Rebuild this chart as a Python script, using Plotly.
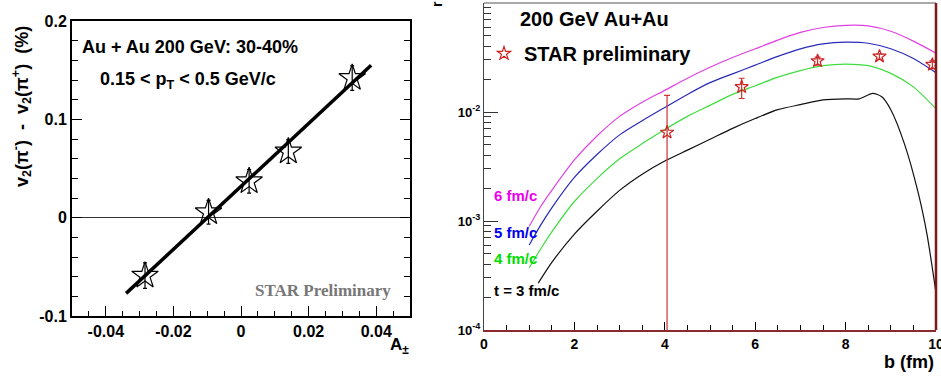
import plotly.graph_objects as go

W, H = 941, 378

# ---------------- Left panel data ----------------
a_pm = [-0.0284, -0.0096, 0.0024, 0.0140, 0.0329]
dv2 = [-0.059, 0.0055, 0.037, 0.0673, 0.142]
dv2_err = [0.013, 0.012, 0.012, 0.012, 0.0125]
fit_x = [-0.034, 0.0385]
fit_y = [-0.077, 0.155]
left_xticks = [-0.04, -0.02, 0, 0.02, 0.04]
left_xticklabels = ["-0.04", "-0.02", "0", "0.02", "0.04"]
left_yticks = [-0.1, 0, 0.1, 0.2]
left_yticklabels = ["-0.1", "0", "0.1", "0.2"]

# ---------------- Right panel data ----------------
b_curve = [1.0, 1.25, 1.5, 2.0, 2.5, 3.0, 3.5, 4.0, 4.5, 5.0,
           5.5, 6.0, 6.5, 7.0, 7.5, 8.0, 8.5, 9.0, 9.5, 10.0]
r_6fm = [8.91e-4, 1.35e-3, 1.91e-3, 3.63e-3, 6.03e-3, 9.12e-3, 1.23e-2, 1.58e-2, 2.04e-2, 2.57e-2,
         3.16e-2, 3.80e-2, 4.57e-2, 5.37e-2, 5.96e-2, 6.24e-2, 6.17e-2, 5.50e-2, 4.47e-2, 3.47e-2]
r_5fm = [6.03e-4, 9.12e-4, 1.32e-3, 2.51e-3, 4.07e-3, 6.17e-3, 8.32e-3, 1.10e-2, 1.45e-2, 1.86e-2,
         2.24e-2, 2.69e-2, 3.24e-2, 3.80e-2, 4.22e-2, 4.37e-2, 4.27e-2, 3.80e-2, 3.09e-2, 2.29e-2]
r_4fm = [3.72e-4, 5.50e-4, 7.94e-4, 1.51e-3, 2.45e-3, 3.72e-3, 5.13e-3, 6.92e-3, 9.12e-3, 1.15e-2,
         1.45e-2, 1.74e-2, 2.09e-2, 2.40e-2, 2.66e-2, 2.75e-2, 2.66e-2, 2.26e-2, 1.70e-2, 1.07e-2]
b_3fm = [1.2, 1.5, 2.0, 2.5, 3.0, 3.5, 4.0, 4.5, 5.0, 5.5, 6.0, 6.5, 7.0, 7.5, 8.0,
         8.3, 8.6, 8.8, 9.0, 9.3, 9.6, 9.8, 10.0]
r_3fm = [2.69e-4, 4.17e-4, 7.59e-4, 1.23e-3, 1.91e-3, 2.69e-3, 3.55e-3, 4.47e-3, 5.62e-3, 7.08e-3,
         8.71e-3, 1.05e-2, 1.17e-2, 1.29e-2, 1.32e-2, 1.32e-2, 1.48e-2, 1.38e-2, 1.05e-2, 5.13e-3,
         1.86e-3, 7.59e-4, 2.19e-4]
star_b = [4.05, 5.70, 7.38, 8.75, 9.92]
star_r = [0.0065, 0.0170, 0.0294, 0.0324, 0.0272]
star_err_plus = [0.0077, 0.0034, 0.0025, 0.0018, 0.0022]
star_err_minus = [0.00649, 0.0037, 0.0025, 0.0018, 0.0022]
right_xticks = [0, 2, 4, 6, 8, 10]
right_yticks = [1e-4, 1e-3, 1e-2]
right_yticklabels = ["10<sup>-4</sup>", "10<sup>-3</sup>", "10<sup>-2</sup>"]

FONT = "Liberation Sans"


def px(x):
    return x / W


def py(y):
    return 1 - y / H


fig = go.Figure()

# left panel traces
fig.add_trace(go.Scatter(x=fit_x, y=fit_y, mode="lines", line=dict(color="black", width=3.5),
                         xaxis="x", yaxis="y", showlegend=False, hoverinfo="skip"))
fig.add_trace(go.Scatter(x=a_pm, y=dv2, mode="markers",
                         marker=dict(symbol="star-open", size=20, color="black", line=dict(width=1.2)),
                         error_y=dict(type="data", array=dv2_err, color="black", thickness=1.2, width=2),
                         xaxis="x", yaxis="y", showlegend=False))

# right panel curves
curve_col = {"6": "#e040e0", "5": "#2a2ab8", "4": "#40dd40", "3": "#111111"}
for bx, ry, c in [(b_curve, r_6fm, "6"), (b_curve, r_5fm, "5"), (b_curve, r_4fm, "4"), (b_3fm, r_3fm, "3")]:
    fig.add_trace(go.Scatter(x=bx, y=ry, mode="lines",
                             line=dict(color=curve_col[c], width=1.2, shape="spline", smoothing=0.7),
                             xaxis="x2", yaxis="y2", showlegend=False))
fig.add_trace(go.Scatter(x=star_b, y=star_r, mode="markers", name="STAR preliminary",
                         marker=dict(symbol="star-open", size=10, color="#cc2222", line=dict(width=1.2)),
                         error_y=dict(type="data", array=star_err_plus, arrayminus=star_err_minus,
                                      color="#cc3333", thickness=1.2, width=3),
                         xaxis="x2", yaxis="y2", showlegend=True))

tickfont = dict(family=FONT, size=16, color="black", weight="bold")

fig.update_layout(
    width=W, height=H,
    margin=dict(l=0, r=0, t=0, b=0, autoexpand=False),
    paper_bgcolor="white", plot_bgcolor="white",
    font=dict(family=FONT, color="black"),
    xaxis=dict(domain=[px(72), px(410)], range=[-0.05, 0.05], anchor="y", automargin=False,
               tickmode="array", tickvals=left_xticks, ticktext=left_xticklabels,
               ticks="inside", ticklen=10, tickwidth=1, tickcolor="black",
               minor=dict(dtick=0.005, tick0=0, ticks="inside", ticklen=5, tickcolor="black", showgrid=False),
               showline=True, linecolor="black", linewidth=2, mirror=True,
               showgrid=False, zeroline=False, tickfont=tickfont),
    yaxis=dict(domain=[py(316), py(21)], range=[-0.1, 0.2], anchor="x", automargin=False,
               tickmode="array", tickvals=left_yticks, ticktext=left_yticklabels,
               ticks="inside", ticklen=10, tickwidth=1, tickcolor="black",
               minor=dict(dtick=0.02, tick0=0, ticks="inside", ticklen=6, tickcolor="black", showgrid=False),
               showline=True, linecolor="black", linewidth=2, mirror="allticks",
               showgrid=False, zeroline=True, zerolinecolor="#333333", zerolinewidth=1,
               tickfont=tickfont),
    xaxis2=dict(domain=[px(484), px(936)], range=[0, 10], anchor="y2", automargin=False,
                tickmode="array", tickvals=right_xticks, ticklabeloverflow="allow",
                ticks="inside", ticklen=8, tickwidth=1, tickcolor="black",
                minor=dict(dtick=0.5, tick0=0, ticks="inside", ticklen=5, tickcolor="black", showgrid=False),
                showline=True, linecolor="#8b2a2a", linewidth=1.5,
                showgrid=False, zeroline=False, tickfont=dict(family=FONT, size=14, color="black", weight="bold")),
    yaxis2=dict(domain=[py(330), py(3)], type="log", range=[-4, -1], anchor="x2", automargin=False,
                tickmode="array", tickvals=right_yticks, ticktext=right_yticklabels,
                ticks="inside", ticklen=14, tickwidth=1, tickcolor="#333333",
                minor=dict(dtick="D1", ticks="inside", ticklen=7, tickcolor="#333333", showgrid=False),
                showline=True, linecolor="#444444", linewidth=1,
                showgrid=False, zeroline=False, tickfont=dict(family=FONT, size=13, color="black", weight="bold")),
    legend=dict(x=px(484), y=py(34), xanchor="left", yanchor="top", bgcolor="rgba(0,0,0,0)",
                font=dict(family=FONT, size=20, color="black", weight="bold"),
                itemwidth=30, tracegroupgap=0),
)

# frame pieces of right panel
fig.add_shape(type="line", xref="x2 domain", yref="y2 domain", x0=0, x1=1, y0=1, y1=1,
              line=dict(color="#555555", width=1))
fig.add_shape(type="line", xref="x2 domain", yref="y2 domain", x0=1, x1=1, y0=0, y1=1,
              line=dict(color="#7a1a1a", width=2.5))

ann = []


def add_text(text, x, y, size, color="black", xanchor="left", yanchor="middle", family=FONT,
             weight="bold", angle=0):
    ann.append(dict(text=text, x=px(x), y=py(y), xref="paper", yref="paper", showarrow=False,
                    xanchor=xanchor, yanchor=yanchor, textangle=angle,
                    font=dict(family=family, size=size, color=color, weight=weight)))


# left panel texts
add_text("Au + Au 200 GeV: 30-40%", 80, 47, 18)
add_text("0.15 &lt; p<sub>T</sub> &lt; 0.5 GeV/c", 98, 80, 18)
add_text("STAR Preliminary", 393, 290, 17, color="#777777", xanchor="right",
         family="Liberation Serif")
add_text("v<sub>2</sub>(π<sup>-</sup>)  -  v<sub>2</sub>(π<sup>+</sup>)  (%)", 22, 107, 18, angle=-90,
         xanchor="center")
add_text("A<sub>±</sub>", 411, 346, 17, xanchor="right")

# right panel texts
add_text("200 GeV Au+Au", 518, 19, 20)
add_text("6 fm/c", 492, 195, 15, color="#ee00ee")
add_text("5 fm/c", 492, 232, 15, color="#0000ee")
add_text("4 fm/c", 492, 258, 15, color="#00dd00")
add_text("t = 3 fm/c", 492, 290, 15, color="black")
add_text("b (fm)", 936, 362, 18, xanchor="right")
add_text("r", 437, 4, 14, xanchor="center", angle=-90)

fig.update_layout(annotations=ann)

fig.write_html("out.html", post_script="document.body.style.margin='0px';",
               config={"displayModeBar": False})
